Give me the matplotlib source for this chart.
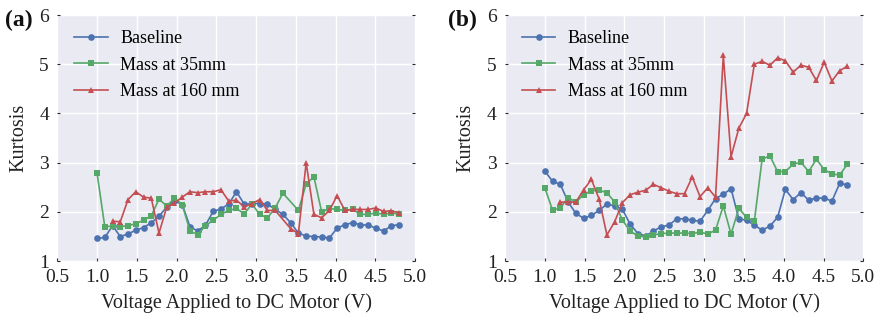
import numpy as np
import matplotlib
matplotlib.use("Agg")
import matplotlib.pyplot as plt

# Motor voltage sweep: 40 settings between 1.0 V and 4.8 V
voltage = np.linspace(1.0, 4.8, 40)

# Panel (a) kurtosis per voltage setting (None = no reading)
a_baseline = [1.46, 1.48, 1.72, 1.50, 1.55, 1.63, 1.68, 1.78, 1.91, 2.10,
              2.22, 2.15, 1.70, 1.61, 1.73, 2.01, 2.06, 2.16, 2.41, 2.16,
              2.17, 2.17, 2.16, 2.05, 1.95, 1.78, 1.57, 1.51, 1.50, 1.49,
              1.47, 1.67, 1.74, 1.78, 1.74, 1.73, 1.67, 1.61, 1.72, 1.74]
a_mass35 = [2.79, 1.70, 1.71, 1.70, 1.72, 1.76, 1.83, 1.92, 2.26, 2.12,
            2.28, 2.15, 1.61, 1.54, 1.72, 1.83, 1.95, 2.03, 2.07, 1.96,
            2.16, 1.95, 1.88, 2.08, 2.38, None, 2.03, 2.57, 2.71, 2.00,
            2.07, 2.05, 2.03, 2.05, 1.95, 1.95, 1.98, 1.95, 1.98, 1.95]
a_mass160 = [None, None, 1.81, 1.80, 2.25, 2.41, 2.30, 2.28, 1.57, 2.10,
             2.18, 2.30, 2.41, 2.39, 2.41, 2.41, 2.45, 2.22, 2.24, 2.10,
             2.17, 2.25, 2.03, 2.03, None, 1.66, 1.56, 3.00, 1.95, 1.88,
             2.03, 2.33, 2.03, 2.05, 2.05, 2.05, 2.08, 2.01, 2.02, 1.98]

# Panel (b) kurtosis per voltage setting
b_baseline = [2.83, 2.62, 2.56, 2.20, 1.97, 1.87, 1.93, 2.03, 2.16, 2.12,
              2.05, 1.75, 1.56, 1.51, 1.61, 1.70, 1.73, 1.86, 1.86, 1.83,
              1.81, 2.03, 2.27, 2.36, 2.47, 1.86, 1.83, 1.73, 1.63, 1.71,
              1.89, 2.46, 2.25, 2.39, 2.24, 2.28, 2.28, 2.22, 2.58, 2.55]
b_mass35 = [2.49, 2.03, 2.08, 2.29, 2.20, 2.35, 2.43, 2.44, 2.39, 2.20,
            1.83, 1.61, 1.51, 1.49, 1.53, 1.56, 1.57, 1.57, 1.57, 1.56,
            1.59, 1.55, 1.63, 2.12, 1.55, 2.07, 1.89, 1.81, 3.07, 3.14,
            2.82, 2.82, 2.97, 3.01, 2.82, 3.07, 2.86, 2.77, 2.75, 2.97]
b_mass160 = [None, None, 2.20, 2.20, 2.20, 2.45, 2.66, 2.26, 1.53, 1.80,
             2.19, 2.35, 2.40, 2.44, 2.56, 2.49, 2.42, 2.37, 2.37, 2.71,
             2.31, 2.49, 2.30, 5.18, 3.12, 3.70, 4.00, 5.00, 5.06, 4.98,
             5.13, 5.07, 4.84, 4.98, 4.94, 4.67, 5.04, 4.66, 4.87, 4.96]

series_labels = ["Baseline", "Mass at 35mm", "Mass at 160 mm"]
panel_tags = ["(a)", "(b)"]
x_ticks = [0.5, 1.0, 1.5, 2.0, 2.5, 3.0, 3.5, 4.0, 4.5, 5.0]
y_ticks = [1, 2, 3, 4, 5, 6]

colors = ["#4C72B0", "#55A868", "#C44E52"]
markers = ["o", "s", "^"]
msizes = [4.8, 5.0, 5.0]

plt.rcParams["font.family"] = ["Liberation Serif", "DejaVu Serif"]

fig = plt.figure(figsize=(8.8, 3.2), dpi=100)
axes = [fig.add_axes([0.0651, 0.184, 0.4065, 0.769]),
        fig.add_axes([0.5739, 0.184, 0.4072, 0.769])]
tag_x = [0.006, 0.509]


def valid(xs, ys):
    pairs = [(x, y) for x, y in zip(xs, ys) if y is not None]
    return [p[0] for p in pairs], [p[1] for p in pairs]


panels = [(a_baseline, a_mass35, a_mass160), (b_baseline, b_mass35, b_mass160)]
for ax, data, tag, tx in zip(axes, panels, panel_tags, tag_x):
    ax.set_facecolor("#EAEAF2")
    for s in ax.spines.values():
        s.set_visible(False)
    ax.grid(True, color="white", linewidth=1.0)
    ax.set_axisbelow(True)
    for ys, c, m, ms, lab in zip(data, colors, markers, msizes, series_labels):
        xs, yv = valid(voltage, ys)
        ax.plot(xs, yv, color=c, marker=m, markersize=ms, linewidth=1.2,
                markeredgewidth=0, label=lab)
    ax.set_xlim(0.5, 5.0)
    ax.set_ylim(1, 6)
    ax.set_xticks(x_ticks)
    ax.set_xticklabels([f"{t:.1f}" for t in x_ticks])
    ax.set_yticks(y_ticks)
    ax.tick_params(axis="both", labelsize=14, length=2, width=0.8,
                   direction="in", right=True, colors="#262626",
                   labelcolor="#222222")
    ax.tick_params(axis="x", pad=6)
    ax.tick_params(axis="y", pad=6)
    ax.set_xlabel("Voltage Applied to DC Motor (V)", fontsize=14.5,
                  color="#222222", labelpad=5)
    ax.set_ylabel("Kurtosis", fontsize=14.5, color="#222222", labelpad=8)
    ax.legend(loc="upper left", frameon=False, fontsize=13, numpoints=1,
              handlelength=1.85, handletextpad=0.7, labelspacing=0.52,
              borderaxespad=0.3, bbox_to_anchor=(0.012, 0.99))
    fig.text(tx, 0.937, tag, fontsize=17, fontweight="bold",
             ha="left", va="center", color="#111111")

fig.savefig("out.png", dpi=100)
